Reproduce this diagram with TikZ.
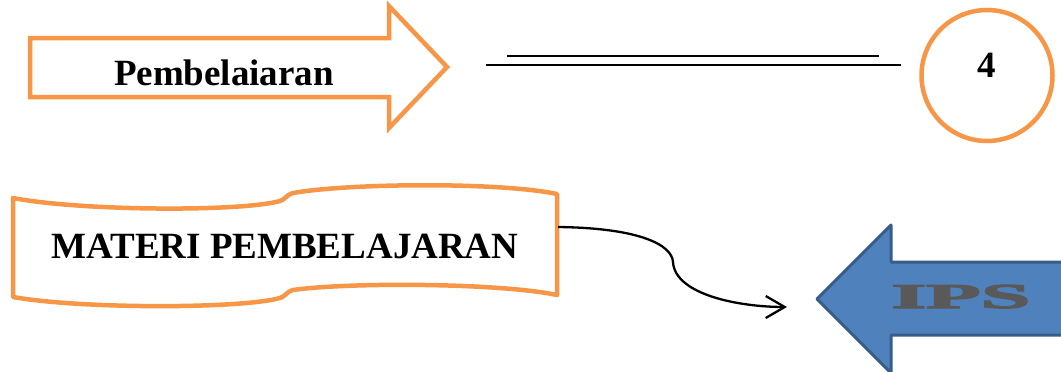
\documentclass[tikz,border=0pt]{standalone}
\usepackage{fontspec}
\setmainfont{Liberation Serif}
\newfontfamily\ipsfont[UprightFont=* Bold,FakeBold=3]{Liberation Serif}
\usetikzlibrary{arrows.meta}
\definecolor{orangeline}{HTML}{F79646}
\definecolor{bluefill}{HTML}{4F81BD}
\definecolor{blueline}{HTML}{385D8A}
\definecolor{ipsgray}{HTML}{595959}
\begin{document}
\begin{tikzpicture}[x=1pt,y=-1pt,
  orangeshape/.style={draw=orangeline,line width=4.5pt,line join=round},
  bigtext/.style={font=\fontsize{37}{40}\selectfont\bfseries,inner sep=0pt,anchor=base},
  rule/.style={line width=2.2pt},
  conn/.style={line width=2.3pt,-{Straight Barb[length=19pt,width=22pt,line width=2.3pt]}},
]
\useasboundingbox (0,0) rectangle (1061,372);
\clip (0,0) rectangle (1061,372);

% block arrow "Pembelaiaran"
\draw[orangeshape,line join=miter] (30,38) -- (389,38) -- (389,6) -- (447,67) -- (389,128) -- (389,97) -- (30,97) -- cycle;
\node[bigtext] (pemb) at (224,85) {Pembelaiaran};

% double rule
\coordinate (r1a) at (507,56); \coordinate (r1b) at (879,56);
\coordinate (r2a) at (486,65); \coordinate (r2b) at (901,65);
\draw[rule] (r1a) -- (r1b);
\draw[rule] (r2a) -- (r2b);

% circle with number
\node[circle,draw=orangeline,line width=4.5pt,minimum size=131pt,inner sep=0pt] (circ) at (987,75.5) {};
\node[bigtext] (num) at (987,77) {4};

% wave banner
\draw[orangeshape] (13,198) .. controls (80,211) and (240,212) .. (280,201)
  .. controls (286,199) and (286,195) .. (293,193)
  .. controls (350,183) and (500,182) .. (557,194)
  -- (557,295)
  .. controls (500,283) and (350,282) .. (293,290)
  .. controls (286,292) and (286,296) .. (280,298)
  .. controls (240,309) and (80,309) .. (13,297) -- cycle;
\node[bigtext] (materi) at (285,258) {MATERI PEMBELAJARAN};

% blue left arrow "IPS"
\draw[fill=bluefill,draw=blueline,line width=3pt,line join=round]
  (1075,262) -- (891,262) -- (891,225) -- (817,299) -- (891,373) -- (891,335) -- (1075,335) -- cycle;
\node[font=\fontsize{35}{35}\selectfont\ipsfont,text=ipsgray,inner sep=0pt,anchor=base] (ips) at (961,308) {\scalebox{2.55}[1]{IPS}};

% curved connector
\coordinate (cstart) at (558,227);
\coordinate (cend) at (787,307);
\draw[conn] (cstart) .. controls (640,228) and (672,245) .. (673,262)
  .. controls (675,295) and (740,307) .. (cend);
\end{tikzpicture}
\end{document}
